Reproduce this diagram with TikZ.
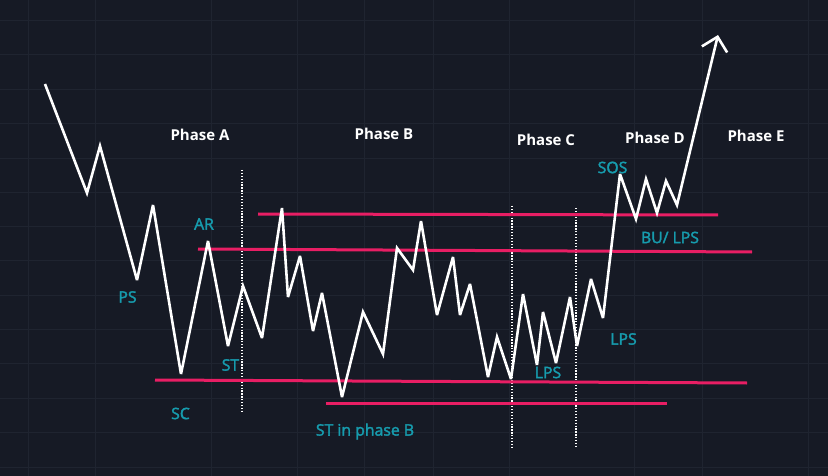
\documentclass[tikz,border=0pt]{standalone}
\usepackage{fontspec}
\setmainfont{Open Sans}
\newfontfamily\evfont[FakeBold=2.2]{Open Sans}
\usetikzlibrary{arrows.meta}
\definecolor{bg}{RGB}{22,26,37}
\definecolor{gridc}{RGB}{31,36,48}
\definecolor{tealc}{RGB}{22,156,174}
\definecolor{pinkc}{RGB}{232,30,100}
\tikzset{
  price/.style={white, line width=2.6pt, line join=miter, miter limit=4},
  level/.style={pinkc, line width=3pt},
  phasesep/.style={white, line width=1.4pt, dash pattern=on 1.3pt off 1.6pt},
  phaselbl/.style={white, font=\fontsize{15}{17}\selectfont\bfseries, inner sep=0pt},
  evlbl/.style={tealc, font=\evfont\fontsize{15.8}{18}\selectfont, inner sep=0pt},
  gridline/.style={gridc, line width=0.8pt}
}
\begin{document}
\begin{tikzpicture}[x=1pt, y=-1pt]
\useasboundingbox (0,0) rectangle (828,476);
\fill[bg] (0,0) rectangle (828,476);
% grid
\foreach \gx in {28,95,211,297,364,433,509,634,702,808}
  \draw[gridline] (\gx,0) -- (\gx,476);
\foreach \gy in {20,54.5,89,123.5,158,192,226,260.5,295,329,363.5,398,432.5,467}
  \draw[gridline] (0,\gy) -- (828,\gy);
% phase separators
\coordinate (sepAt) at (242,170); \coordinate (sepAb) at (242,412);
\coordinate (sepBt) at (512,206); \coordinate (sepBb) at (512,447);
\coordinate (sepCt) at (576,208); \coordinate (sepCb) at (576,447);
\draw[phasesep] (sepAt) -- (sepAb);
\draw[phasesep] (sepBt) -- (sepBb);
\draw[phasesep] (sepCt) -- (sepCb);
% levels
\coordinate (r1a) at (258,214); \coordinate (r1b) at (718,215);
\coordinate (r2a) at (198,249); \coordinate (r2b) at (752,252);
\coordinate (s1a) at (155,380); \coordinate (s1b) at (747,383);
\coordinate (s2a) at (326,403); \coordinate (s2b) at (667,403);
\draw[level] (r1a) -- (r1b);
\draw[level] (r2a) -- (r2b);
\draw[level] (s1a) -- (s1b);
\draw[level] (s2a) -- (s2b);
% price path
\draw[price, -{Straight Barb[length=13pt, width=26pt, line width=2.6pt]}]
 (45,84) -- (87,193) -- (100,146) -- (137,280) -- (153,205) -- (181,374)
 -- (208,241) -- (228,346) -- (243,286) -- (262,338) -- (282,208) -- (288,297)
 -- (300,256) -- (313,331) -- (322,293) -- (342,397) -- (363,312) -- (383,354)
 -- (397,248) -- (413,270) -- (421,221) -- (437,315) -- (453,257) -- (460,315)
 -- (470,284) -- (488,377) -- (497,337) -- (511,379) -- (523,294) -- (537,365)
 -- (543,312) -- (556,363) -- (570,297) -- (577,346) -- (591,279) -- (603,318)
 -- (620,174) -- (636,219) -- (646,179) -- (657,213) -- (666,181) -- (677,205)
 -- (718,35);
% phase labels
\node[phaselbl] (pA) at (200,135) {Phase A};
\node[phaselbl] (pB) at (384,134) {Phase B};
\node[phaselbl] (pC) at (546,140) {Phase C};
\node[phaselbl] (pD) at (655,138) {Phase D};
\node[phaselbl] (pE) at (756,136) {Phase E};
% event labels
\node[evlbl] (ps) at (127.5,297) {PS};
\node[evlbl] (ar) at (204,224) {AR};
\node[evlbl] (st) at (230.5,365) {ST};
\node[evlbl] (sc) at (180.5,413.5) {SC};
\node[evlbl] (stb) at (365,431.5) {ST in phase B};
\node[evlbl] (lps1) at (548,372.5) {LPS};
\node[evlbl] (lps2) at (623.5,339) {LPS};
\node[evlbl] (sos) at (612.5,167.5) {SOS};
\node[evlbl] (bu) at (670,237.5) {BU/ LPS};
\end{tikzpicture}
\end{document}
